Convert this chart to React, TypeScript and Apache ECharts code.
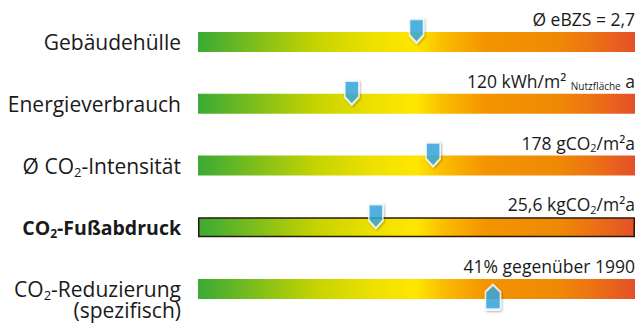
import React, { useEffect, useRef } from "react";
import * as echarts from "echarts";

const categoryLabels = [
  "Gebäudehülle",
  "Energieverbrauch",
  "Ø CO{sub|2}-Intensität",
  "{b|CO}{bsub|2}{b|-Fußabdruck}",
  "CO{sub|2}-Reduzierung\n(spezifisch)",
];
const valueLabels = [
  "Ø eBZS = 2,7",
  "120 kWh/m² {small|Nutzfläche} a",
  "178 gCO{sub|2}/m²a",
  "25,6 kgCO{sub|2}/m²a",
  "41% gegenüber 1990",
];
const trackValues = [100, 100, 100, 100, 100];
const markerValues = [50, 35.2, 53.8, 40.7, 67.5];
const markerDirections = ["down", "down", "down", "down", "up"];
const highlighted = [false, false, false, true, false];

const FONT = "'Open Sans', sans-serif";
const BLUE = "#36a9e1";
const INK = "#1a1a1a";

const downPin = "path://M1,0 L13,0 Q14,0 14,1 L14,17 L7,25 L0,17 L0,1 Q0,0 1,0 Z";
const upPin = "path://M7,0 L14,7 L14,23 Q14,24 13,24 L1,24 Q0,24 0,23 L0,7 Z";

export default function App() {
  const ref = useRef<HTMLDivElement>(null);
  useEffect(() => {
    if (!ref.current) return;
    const chart = echarts.init(ref.current, null, { renderer: "svg" });
    const gradient = () =>
      new echarts.graphic.LinearGradient(0, 0, 1, 0, [
        { offset: 0, color: "#3aaa35" },
        { offset: 0.27, color: "#c6d300" },
        { offset: 0.4, color: "#ede000" },
        { offset: 0.5, color: "#ffe600" },
        { offset: 0.56, color: "#fbbd00" },
        { offset: 0.66, color: "#f39400" },
        { offset: 0.82, color: "#f08a05" },
        { offset: 0.9, color: "#ec7412" },
        { offset: 1, color: "#e4502a" },
      ]);
    const markerStyle = {
      color: BLUE,
      borderColor: "#ffffff",
      borderWidth: 2,
      shadowBlur: 2,
      shadowColor: "rgba(0,0,0,0.35)",
      shadowOffsetX: 1,
      shadowOffsetY: 1,
    };
    const mainRich = {
      sub: { fontSize: 13, fontFamily: FONT, color: INK, lineHeight: 6, padding: [12, 0, 0, 0] },
      b: { fontSize: 19.5, fontFamily: FONT, fontWeight: "bold", color: INK, lineHeight: 22 },
      bsub: { fontSize: 12, fontFamily: FONT, fontWeight: "bold", color: INK, lineHeight: 6, padding: [12, 0, 0, 0] },
    };
    const valRich = {
      sub: { fontSize: 11, fontFamily: FONT, color: INK, lineHeight: 5, padding: [10, 0, 0, 0] },
      small: { fontSize: 10, fontFamily: FONT, color: INK, lineHeight: 5, padding: [10, 0, 0, 0] },
    };
    chart.setOption({
      animation: false,
      grid: { left: 198, right: 2, top: 11, bottom: 4, containLabel: false },
      xAxis: { type: "value", min: 0, max: 100, show: false },
      yAxis: {
        type: "category",
        inverse: true,
        data: categoryLabels.map((c, i) =>
          i === categoryLabels.length - 1
            ? { value: c, textStyle: { padding: [21, 0, 0, 0], lineHeight: 21 } }
            : c
        ),
        axisLine: { show: false },
        axisTick: { show: false },
        axisLabel: {
          margin: 17,
          fontSize: 21,
          lineHeight: 22,
          fontFamily: FONT,
          color: INK,
          rich: mainRich,
        },
      },
      series: [
        {
          type: "bar",
          barWidth: 20,
          data: trackValues.map((v, i) => ({
            value: v,
            itemStyle: highlighted[i]
              ? { color: gradient(), borderColor: "#2a1a0a", borderWidth: 1.5 }
              : { color: gradient() },
          })),
          label: {
            show: true,
            position: ["100%", 0],
            align: "right",
            verticalAlign: "bottom",
            offset: [0, -3],
            fontSize: 17.5,
            lineHeight: 20,
            fontFamily: FONT,
            color: INK,
            formatter: (p: any) => valueLabels[p.dataIndex],
            rich: valRich,
          },
          silent: true,
        },
        {
          type: "scatter",
          symbol: downPin,
          symbolSize: [14, 24],
          symbolOffset: [0, -11],
          itemStyle: markerStyle,
          data: markerValues.map((v, i) => (markerDirections[i] === "down" ? [v, i] : null)).filter((d) => d),
          z: 5,
        },
        {
          type: "scatter",
          symbol: upPin,
          symbolSize: [15, 25],
          symbolOffset: [0, 8],
          itemStyle: markerStyle,
          data: markerValues.map((v, i) => (markerDirections[i] === "up" ? [v, i] : null)).filter((d) => d),
          z: 5,
        },
      ],
    });
    return () => chart.dispose();
  }, []);
  return <div ref={ref} style={{ width: 637, height: 324, position: "absolute", left: 0, top: 0 }} />;
}
